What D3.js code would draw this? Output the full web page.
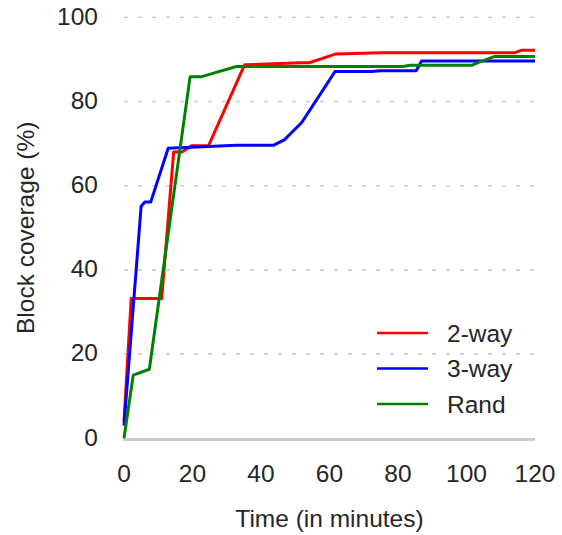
<!DOCTYPE html>
<html>
<head>
<meta charset="utf-8">
<script src="https://cdn.jsdelivr.net/npm/d3@7"></script>
<style>
  body { margin: 0; background: #fff; }
  text { font-family: "Liberation Sans", Arial, sans-serif; fill: #262626; }
</style>
</head>
<body>
<div id="chart"></div>
<script>
// time in minutes, block coverage in %
var twoWay = [
  [0, 4], [2.1, 33.2], [11.0, 33.2], [14.5, 68.0], [16.9, 68.0], [19.7, 69.5],
  [24.7, 69.5], [35.2, 88.7], [51.4, 89.2], [54.1, 89.2], [61.9, 91.3],
  [74.7, 91.6], [114.2, 91.6], [116.1, 92.2], [120, 92.2]
];
var threeWay = [
  [0, 3], [5.0, 55.1], [6.1, 56.1], [7.8, 56.1], [12.9, 68.9], [32.9, 69.6],
  [43.6, 69.6], [46.8, 70.9], [51.9, 75.0], [61.6, 87.1], [72.3, 87.1],
  [74.7, 87.3], [85.3, 87.3], [86.9, 89.6], [120, 89.6]
];
var rand = [
  [0, 0], [2.7, 15.0], [7.4, 16.4], [19.3, 85.9], [22.7, 85.9], [32.8, 88.3],
  [81.5, 88.3], [83.5, 88.6], [101.5, 88.6], [103.9, 89.4], [108.3, 90.7],
  [120, 90.7]
];

var seriesNames = ["2-way", "3-way", "Rand"];
var seriesColors = ["#ff0000", "#0000ff", "#008000"];
var xTicks = [0, 20, 40, 60, 80, 100, 120];
var yTicks = [0, 20, 40, 60, 80, 100];

var allSeries = [twoWay, threeWay, rand];

var width = 562, height = 535;
var fontSize = "24.5px";
var svg = d3.select("#chart").append("svg")
    .attr("width", width)
    .attr("height", height);

var x = d3.scaleLinear().domain([0, 120]).range([124, 535]);
var y = d3.scaleLinear().domain([0, 100]).range([438.3, 17.3]);

// horizontal grid lines (dashed)
svg.selectAll(".grid")
    .data(yTicks.filter(function(d) { return d > 0; }))
  .enter().append("line")
    .attr("class", "grid")
    .attr("x1", x(0))
    .attr("x2", x(120))
    .attr("y1", function(d) { return y(d); })
    .attr("y2", function(d) { return y(d); })
    .attr("stroke", "#cccccc")
    .attr("stroke-width", 1.6)
    .attr("stroke-dasharray", "4,10");

// bottom spine
svg.append("line")
    .attr("x1", x(0) - 1)
    .attr("x2", x(120))
    .attr("y1", y(0) + 1.2)
    .attr("y2", y(0) + 1.2)
    .attr("stroke", "#cccccc")
    .attr("stroke-width", 3);

// y tick labels
svg.selectAll(".ytick")
    .data(yTicks)
  .enter().append("text")
    .attr("class", "ytick")
    .attr("x", 98)
    .attr("y", function(d) { return y(d); })
    .attr("dy", "0.3em")
    .attr("text-anchor", "end")
    .style("font-size", fontSize)
    .text(function(d) { return d; });

// x tick labels
svg.selectAll(".xtick")
    .data(xTicks)
  .enter().append("text")
    .attr("class", "xtick")
    .attr("x", function(d) { return x(d); })
    .attr("y", 482)
    .attr("text-anchor", "middle")
    .style("font-size", fontSize)
    .text(function(d) { return d; });

// axis titles
svg.append("text")
    .attr("x", (x(0) + x(120)) / 2)
    .attr("y", 527)
    .attr("text-anchor", "middle")
    .style("font-size", fontSize)
    .text("Time (in minutes)");

svg.append("text")
    .attr("transform", "translate(34," + ((y(0) + y(100)) / 2) + ") rotate(-90)")
    .attr("text-anchor", "middle")
    .style("font-size", fontSize)
    .text("Block coverage (%)");

// series lines
var line = d3.line()
    .x(function(d) { return x(d[0]); })
    .y(function(d) { return y(d[1]); });

svg.selectAll(".series")
    .data(allSeries)
  .enter().append("path")
    .attr("class", "series")
    .attr("d", line)
    .attr("fill", "none")
    .attr("stroke", function(d, i) { return seriesColors[i]; })
    .attr("stroke-width", 3)
    .attr("stroke-linejoin", "round");

// legend
var legend = svg.selectAll(".legend")
    .data(seriesNames)
  .enter().append("g")
    .attr("class", "legend")
    .attr("transform", function(d, i) { return "translate(377," + (333 + i * 35.5) + ")"; });

legend.append("line")
    .attr("x1", 0)
    .attr("x2", 51)
    .attr("stroke", function(d, i) { return seriesColors[i]; })
    .attr("stroke-width", 2.6);

legend.append("text")
    .attr("x", 70)
    .attr("dy", "0.35em")
    .style("font-size", fontSize)
    .text(function(d) { return d; });
</script>
</body>
</html>
